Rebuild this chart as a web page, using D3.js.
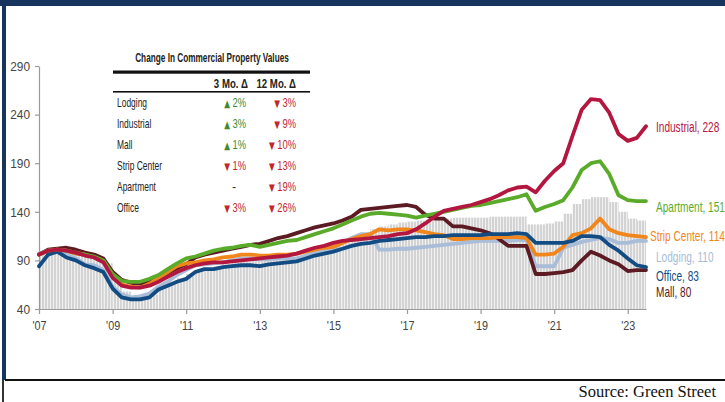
<!DOCTYPE html>
<html>
<head>
<meta charset="utf-8">
<script src="https://cdn.jsdelivr.net/npm/d3@7"></script>
<style>
  body { margin: 0; background: #fff; }
  svg text { font-family: "Liberation Sans", Arial, sans-serif; }
</style>
</head>
<body>
<svg id="chart" width="725" height="402"></svg>
<script>
// quarterly index values, Q1 2007 .. Q3 2023
const lodging = [
  97, 100, 101, 96,   92, 86, 85, 80,   63, 55, 52, 53,   56, 63, 68, 75,
  80, 85, 86, 87,     88, 90, 92, 92,   91, 91, 92, 92,   92, 95, 98, 100,
  102, 108, 113, 117, 117, 101, 101, 102, 102, 103, 104, 105, 106, 107, 108, 109,
  110, 110, 110, 110, 111, 111, 84, 84, 84, 103, 106, 109, 111, 113, 112, 108,
  108, 110, 110
];
const industrial = [
  96, 100, 101, 100,  98, 95, 93, 88,   72, 64, 62, 62,   64, 68, 73, 78,
  82, 85, 87, 88,     88, 89, 90, 91,   92, 93, 94, 95,   97, 100, 103, 105,
  108, 110, 111, 112, 113, 114, 115, 117, 118, 122, 128, 135, 141, 143, 145, 147,
  150, 153, 157, 162, 165, 166, 160, 172, 182, 190, 218, 245, 256, 255, 242, 220,
  213, 216, 228
];
const mall = [
  96, 101, 102, 103,  101, 98, 96, 92,  78, 70, 67, 66,   68, 72, 77, 82,
  86, 93, 96, 98,     100, 102, 104, 106, 107, 110, 113, 115, 118, 121, 124, 126,
  128, 131, 135, 142, 143, 144, 145, 146, 147, 145, 137, 133, 133, 125, 125, 123,
  121, 118, 112, 105, 105, 105, 76, 76, 77, 78, 80, 90,  99, 95, 90, 86,
  79, 80, 80
];
const stripCenter = [
  96, 100, 101, 100,  97, 96, 93, 89,   75, 65, 63, 62,   66, 72, 78, 84,
  87, 88, 90, 91,     93, 94, 96, 96,   95, 95, 96, 96,   97, 99, 101, 103,
  104, 108, 112, 115, 117, 122, 121, 122, 122, 121, 119, 117, 116, 112, 112, 113,
  113, 113, 114, 114, 114, 113, 96, 96, 97, 104, 116, 118, 123, 133, 122, 118,
  116, 115, 114
];
const apartment = [
  96, 100, 101, 100,  98, 96, 94, 90,   76, 69, 68, 68,   71, 75, 81, 87,
  92, 94, 97, 100,    102, 103, 105, 106, 104, 106, 108, 110, 111, 114, 117, 120,
  123, 127, 131, 135, 138, 139, 138, 137, 136, 134, 136, 138, 140, 142, 144, 146,
  147, 149, 151, 153, 155, 158, 141, 145, 148, 152, 165, 183, 190, 192, 179, 157,
  152, 151, 151
];
const office = [
  84, 96, 99, 93,     90, 85, 82, 78,   61, 52, 50, 50,   52, 60, 64, 68,
  71, 78, 81, 81,     83, 84, 85, 85,   84, 86, 87, 88,   89, 92, 95, 97,
  99, 102, 105, 107,  108, 110, 111, 112, 113, 114, 114, 115, 115, 116, 116, 116,
  116, 117, 117, 117, 118, 117, 108, 108, 108, 108, 110, 115, 115, 114, 106, 100,
  92, 85, 83
];
// grey background bars, one per quarter
const allProperty = [
  96, 100, 100, 99,   97, 94, 92, 87,   72, 58, 52, 52,   55, 62, 67, 72,
  76, 80, 82, 84,     86, 88, 89, 90,   90, 91, 92, 93,   95, 97, 99, 101,
  104, 108, 113, 118, 122, 125, 127, 129, 130, 131, 132, 133, 133, 134, 134, 134,
  134, 135, 135, 135, 135, 127, 127, 128, 130, 138, 148, 153, 155, 155, 150, 140,
  133, 131
];

const yTicks = [40, 90, 140, 190, 240, 290];
const xTickYears = [2007, 2009, 2011, 2013, 2015, 2017, 2019, 2021, 2023];
const xTickLabels = ["'07", "'09", "'11", "'13", "'15", "'17", "'19", "'21", "'23"];

const tableRows = ["Lodging", "Industrial", "Mall", "Strip Center", "Apartment", "Office"];
const chg3Mo = [2, 3, 1, -1, null, -3];
const chg12Mo = [-3, -9, -10, -13, -19, -26];

const dates = d3.timeMonth.every(3).range(new Date(2007, 0, 1), new Date(2023, 7, 1));

const series = [
  { name: "Lodging", values: lodging, color: "#a9bcd8", labelY: 257 },
  { name: "Mall", values: mall, color: "#5c1a22", labelY: 292 },
  { name: "Strip Center", values: stripCenter, color: "#f0861c", labelY: 236 },
  { name: "Office", values: office, color: "#134c83", labelY: 276 },
  { name: "Apartment", values: apartment, color: "#5aab2a", labelY: 207 },
  { name: "Industrial", values: industrial, color: "#b3173f", labelY: 127 }
];

// squeeze text horizontally (the chart uses a condensed face):
// move x/y into a transform and scale x around the anchor point
function narrow(sel, k) {
  sel.each(function() {
    const t = d3.select(this);
    const tx = +t.attr("x") || 0, ty = +t.attr("y") || 0;
    t.attr("x", 0).attr("y", 0)
      .attr("transform", `translate(${tx},${ty}) scale(${k},1)`);
  });
}

const svg = d3.select("#chart");

// frame bits
svg.append("rect").attr("x", 0).attr("y", 0).attr("width", 725).attr("height", 6).attr("fill", "#17345f");
svg.append("rect").attr("x", 2).attr("y", 0).attr("width", 4).attr("height", 380).attr("fill", "#17345f");
svg.append("rect").attr("x", 2).attr("y", 380).attr("width", 2).attr("height", 22).attr("fill", "#333");
svg.append("rect").attr("x", 5).attr("y", 379).attr("width", 720).attr("height", 2).attr("fill", "#111");
svg.append("text")
  .attr("x", 716).attr("y", 397)
  .attr("text-anchor", "end")
  .style("font-family", "'Liberation Serif', 'DejaVu Serif', serif")
  .style("font-size", "16.5px")
  .attr("fill", "#111")
  .text("Source: Green Street");

const x = d3.scaleTime()
  .domain([new Date(2007, 0, 1), new Date(2023, 6, 1)])
  .range([39, 646]);
const y = d3.scaleLinear().domain([40, 290]).range([309, 66]);

// striped fill for the grey bars
const defs = svg.append("defs");
const pat = defs.append("pattern")
  .attr("id", "stripes")
  .attr("patternUnits", "userSpaceOnUse")
  .attr("width", 3).attr("height", 10);
pat.append("rect").attr("width", 3).attr("height", 10).attr("fill", "#f0f0f0");
pat.append("rect").attr("width", 2).attr("height", 10).attr("fill", "#d3d3d3");

svg.append("g")
  .selectAll("rect")
  .data(allProperty)
  .join("rect")
  .attr("x", (d, i) => x(dates[i]))
  .attr("width", (d, i) => x(dates[i + 1]) - x(dates[i]))
  .attr("y", d => y(d))
  .attr("height", d => y(40) - y(d))
  .attr("fill", "url(#stripes)");

// axes
const yAxis = svg.append("g")
  .attr("transform", "translate(39,0)")
  .call(d3.axisLeft(y).tickValues(yTicks).tickSize(4).tickSizeOuter(0).tickPadding(5));
const xAxis = svg.append("g")
  .attr("transform", "translate(0,309)")
  .call(d3.axisBottom(x)
    .tickValues(xTickYears.map(yr => new Date(yr, 0, 1)))
    .tickFormat((d, i) => xTickLabels[i])
    .tickSize(5).tickSizeOuter(0).tickPadding(6));
[yAxis, xAxis].forEach(ax => {
  ax.selectAll("path, line").attr("stroke", "#9a9a9a").attr("stroke-width", 1.2);
  ax.selectAll("text")
    .attr("fill", "#444")
    .style("font-family", "'Liberation Sans', Arial, sans-serif")
    .style("font-size", "13.5px");
});
narrow(yAxis.selectAll("text"), 0.88);
narrow(xAxis.selectAll("text"), 0.8);

// lines
const line = d3.line()
  .x((d, i) => x(dates[i]))
  .y(d => y(d));

svg.append("g")
  .selectAll("path")
  .data(series)
  .join("path")
  .attr("d", s => line(s.values))
  .attr("fill", "none")
  .attr("stroke", s => s.color)
  .attr("stroke-width", 3.8)
  .attr("stroke-linejoin", "round")
  .attr("stroke-linecap", "round");

// end labels
const endLabels = svg.append("g")
  .selectAll("text")
  .data(series)
  .join("text")
  .attr("x", s => s.name === "Strip Center" ? 650 : 656)
  .attr("y", s => s.labelY + 5)
  .attr("fill", s => s.color)
  .style("font-size", "14px")
  .text(s => s.name + ", " + s.values[s.values.length - 1]);
narrow(endLabels, 0.72);

// change table
const table = svg.append("g");
const title = table.append("text")
  .attr("x", 212).attr("y", 62)
  .attr("text-anchor", "middle")
  .attr("font-weight", "bold")
  .attr("fill", "#222")
  .style("font-size", "13.5px")
  .text("Change In Commercial Property Values");
narrow(title, 0.61);
table.append("rect").attr("x", 113).attr("y", 70.5).attr("width", 197).attr("height", 3.2).attr("fill", "#111");
table.append("rect").attr("x", 113).attr("y", 91).attr("width", 197).attr("height", 1.6).attr("fill", "#111");
const heads = table.selectAll(".head")
  .data([["3 Mo. \u0394", 248], ["12 Mo. \u0394", 296]])
  .join("text")
  .attr("class", "head")
  .attr("x", d => d[1]).attr("y", 88)
  .attr("text-anchor", "end")
  .attr("font-weight", "bold").attr("fill", "#222")
  .style("font-size", "13px")
  .text(d => d[0]);
narrow(heads, 0.74);

const rowY = d3.scalePoint().domain(tableRows).range([102, 207]);
const up = "#3f8a2c", down = "#c1272d";

const rnames = table.selectAll(".rname")
  .data(tableRows)
  .join("text")
  .attr("class", "rname")
  .attr("x", 117).attr("y", d => rowY(d) + 5)
  .attr("fill", "#222").style("font-size", "13px")
  .text(d => d);
narrow(rnames, 0.65);

function cell(colX, vals) {
  const t = table.selectAll(null)
    .data(vals)
    .join("text")
    .attr("x", colX)
    .attr("y", (d, i) => rowY(tableRows[i]) + 5)
    .attr("text-anchor", d => d === null ? "middle" : "end")
    .style("font-size", "12.5px");
  t.filter(d => d === null).attr("x", colX - 12).attr("fill", "#333").text("-");
  const v = t.filter(d => d !== null).attr("fill", d => d > 0 ? up : down);
  v.append("tspan")
    .style("font-family", "'DejaVu Sans', sans-serif")
    .style("font-size", "10px")
    .text(d => d > 0 ? "\u25B2 " : "\u25BC ");
  v.append("tspan").text(d => Math.abs(d) + "%");
  narrow(v, 0.75);
}
cell(246, chg3Mo);
cell(296, chg12Mo);
</script>
</body>
</html>
